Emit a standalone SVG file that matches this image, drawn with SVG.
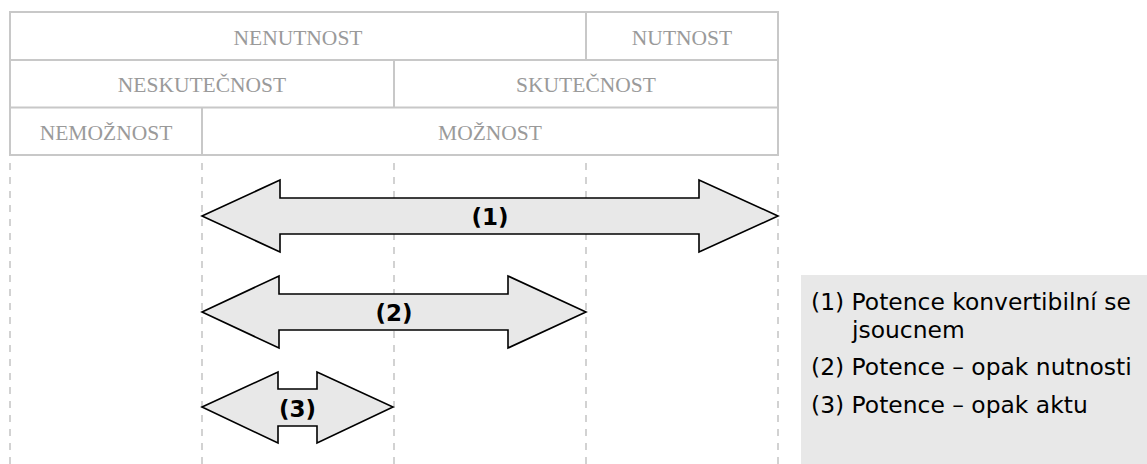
<svg xmlns="http://www.w3.org/2000/svg" width="1147" height="464" viewBox="0 0 1147 464">
  <style>
    .grid { fill: none; stroke: #c8c8c8; stroke-width: 2; }
    .guide { fill: none; stroke: #c4c4c4; stroke-width: 1.5; stroke-dasharray: 7 7; }
    .cell { font-family: "Liberation Serif", "Times New Roman", serif; font-size: 21.5px; fill: #9a9a9a; text-anchor: middle; }
    .arrow { fill: #e8e8e8; stroke: #000; stroke-width: 1.6; stroke-linejoin: miter; }
    .tag { font-family: "DejaVu Sans", Verdana, sans-serif; font-weight: bold; font-size: 23px; fill: #000; text-anchor: middle; }
    .legend { font-family: "DejaVu Sans", Verdana, sans-serif; font-size: 23.4px; fill: #000; }
  </style>
  <rect width="1147" height="464" fill="#fff"/>

  <!-- vertical guide lines below the table -->
  <g id="guides">
    <line class="guide" x1="10" y1="163" x2="10" y2="464"/>
    <line class="guide" x1="202" y1="163" x2="202" y2="464"/>
    <line class="guide" x1="394" y1="163" x2="394" y2="464"/>
    <line class="guide" x1="586" y1="163" x2="586" y2="464"/>
    <line class="guide" x1="778" y1="163" x2="778" y2="464"/>
  </g>

  <!-- three-row modality table -->
  <g id="table">
    <rect class="grid" x="10" y="12" width="768" height="143"/>
    <line class="grid" x1="10" y1="60" x2="778" y2="60"/>
    <line class="grid" x1="10" y1="107.5" x2="778" y2="107.5"/>
    <line class="grid" x1="586" y1="12" x2="586" y2="60"/>
    <line class="grid" x1="394" y1="60" x2="394" y2="107.5"/>
    <line class="grid" x1="202" y1="107.5" x2="202" y2="155"/>
  </g>
  <g id="cell-nenutnost"><text class="cell" x="298" y="45">NENUTNOST</text></g>
  <g id="cell-nutnost"><text class="cell" x="682" y="45">NUTNOST</text></g>
  <g id="cell-neskutecnost"><text class="cell" x="202" y="92">NESKUTEČNOST</text></g>
  <g id="cell-skutecnost"><text class="cell" x="586" y="92">SKUTEČNOST</text></g>
  <g id="cell-nemoznost"><text class="cell" x="106" y="139.5">NEMOŽNOST</text></g>
  <g id="cell-moznost"><text class="cell" x="490" y="139.5">MOŽNOST</text></g>

  <!-- double-headed arrows -->
  <g id="arrow-1">
    <polygon class="arrow" points="202,216 280,180 280,198 699,198 699,180 778,216 699,252 699,234 280,234 280,252"/>
    <text class="tag" x="490" y="225">(1)</text>
  </g>
  <g id="arrow-2">
    <polygon class="arrow" points="202,312 279,276 279,294 508,294 508,276 586,312 508,348 508,330 279,330 279,348"/>
    <text class="tag" x="394" y="321">(2)</text>
  </g>
  <g id="arrow-3">
    <polygon class="arrow" points="202,407 278,372 278,389 317,389 317,372 393,407 317,443 317,426 278,426 278,443"/>
    <text class="tag" x="297.5" y="417">(3)</text>
  </g>

  <!-- legend -->
  <g id="legend">
    <rect x="801" y="275" width="346" height="189" fill="#e8e8e8"/>
    <text class="legend" x="811" y="310">(1) Potence konvertibilní se</text>
    <text class="legend" x="852" y="338">jsoucnem</text>
    <text class="legend" x="811" y="375">(2) Potence – opak nutnosti</text>
    <text class="legend" x="811" y="413">(3) Potence – opak aktu</text>
  </g>
</svg>
